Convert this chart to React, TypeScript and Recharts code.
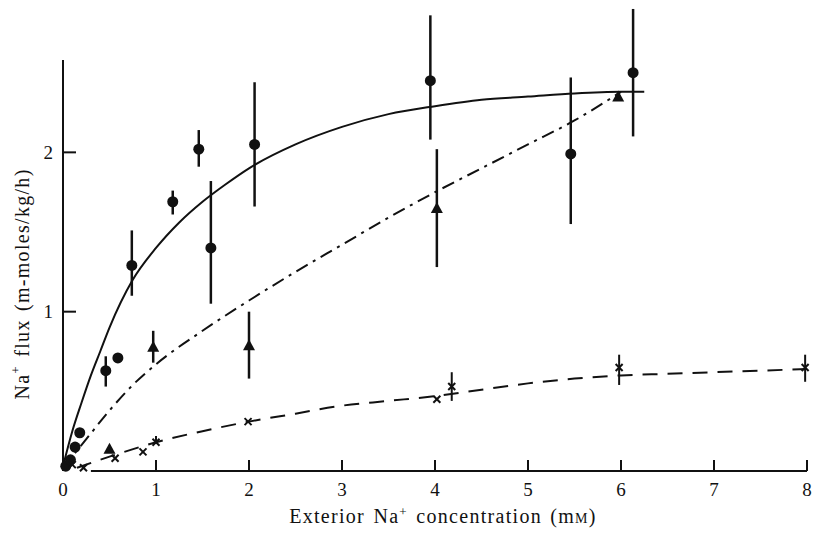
import React from "react";
import {
  ComposedChart,
  Line,
  Scatter,
  XAxis,
  YAxis,
  ErrorBar,
  ReferenceLine,
} from "recharts";

const INK = "#111";
const FONT = "'Liberation Serif', 'Times New Roman', serif";

const xTicks = [0, 1, 2, 3, 4, 5, 6, 7, 8];
const yTicks = [1, 2];

// filled circles (solid curve), bar ends are null where no bar is drawn
const circleX = [0.03, 0.08, 0.13, 0.18, 0.46, 0.59, 0.74, 1.18, 1.46, 1.59, 2.06, 3.95, 5.46, 6.13];
const circleY = [0.03, 0.07, 0.15, 0.24, 0.63, 0.71, 1.29, 1.69, 2.02, 1.4, 2.05, 2.45, 1.99, 2.5];
const circleLow = [null, null, null, null, 0.53, null, 1.1, 1.61, 1.91, 1.05, 1.66, 2.08, 1.55, 2.1];
const circleHigh = [null, null, null, null, 0.72, null, 1.51, 1.76, 2.14, 1.82, 2.44, 2.86, 2.47, 2.9];

// triangles (dash-dot curve)
const triX = [0.5, 0.97, 2.0, 4.02, 5.97];
const triY = [0.14, 0.78, 0.79, 1.65, 2.35];
const triLow = [null, 0.68, 0.58, 1.28, null];
const triHigh = [null, 0.88, 1.0, 2.02, null];

// crosses (dashed curve)
const crossX = [0.1, 0.22, 0.56, 0.86, 1.0, 1.99, 4.02, 4.18, 5.98, 7.98];
const crossY = [0.04, 0.02, 0.08, 0.12, 0.18, 0.31, 0.45, 0.53, 0.65, 0.65];
const crossLow = [null, null, null, null, 0.17, null, null, 0.44, 0.54, 0.56];
const crossHigh = [null, null, null, null, 0.22, null, null, 0.62, 0.73, 0.73];

// fitted curves
const solidX = [0, 0.1, 0.2, 0.3, 0.4, 0.5, 0.75, 1.0, 1.25, 1.5, 1.75, 2.0, 2.5, 3.0, 3.5, 4.0, 4.5, 5.0, 5.5, 6.0, 6.25];
const solidY = [0.03, 0.25, 0.43, 0.6, 0.75, 0.9, 1.2, 1.4, 1.56, 1.69, 1.8, 1.9, 2.05, 2.16, 2.24, 2.29, 2.33, 2.35, 2.37, 2.38, 2.38];

const dashDotX = [0, 0.25, 0.5, 0.75, 1.0, 1.5, 2.0, 2.5, 3.0, 3.5, 4.0, 4.5, 5.0, 5.5, 6.0];
const dashDotY = [0.02, 0.2, 0.38, 0.54, 0.67, 0.88, 1.07, 1.25, 1.42, 1.59, 1.75, 1.9, 2.05, 2.2, 2.38];

const dashedX = [0.15, 0.5, 1.0, 1.5, 2.0, 2.5, 3.0, 3.5, 4.0, 4.5, 5.0, 5.5, 6.0, 6.5, 7.0, 7.5, 8.0];
const dashedY = [0.02, 0.09, 0.18, 0.25, 0.31, 0.36, 0.41, 0.44, 0.47, 0.51, 0.55, 0.58, 0.6, 0.61, 0.62, 0.63, 0.64];

type Pt = { x: number; y: number; err?: [number, number] };

function points(xs: number[], ys: number[], lo: (number | null)[], hi: (number | null)[]): Pt[] {
  return xs.map((x, i) => {
    const p: Pt = { x, y: ys[i] };
    if (lo[i] != null && hi[i] != null) p.err = [ys[i] - (lo[i] as number), (hi[i] as number) - ys[i]];
    return p;
  });
}

function curve(xs: number[], ys: number[]) {
  return xs.map((x, i) => ({ x, y: ys[i] }));
}

const circles = points(circleX, circleY, circleLow, circleHigh);
const triangles = points(triX, triY, triLow, triHigh);
const crosses = points(crossX, crossY, crossLow, crossHigh);

const DotShape = (p: any) => <circle cx={p.cx} cy={p.cy} r={5.5} fill={INK} />;

const TriShape = (p: any) => (
  <polygon
    points={`${p.cx - 6},${p.cy + 5} ${p.cx + 6},${p.cy + 5} ${p.cx},${p.cy - 6}`}
    fill={INK}
  />
);

const CrossShape = (p: any) => (
  <g stroke={INK} strokeWidth={2}>
    <line x1={p.cx - 3.5} y1={p.cy - 3.5} x2={p.cx + 3.5} y2={p.cy + 3.5} />
    <line x1={p.cx - 3.5} y1={p.cy + 3.5} x2={p.cx + 3.5} y2={p.cy - 3.5} />
  </g>
);

const titleStyle = { letterSpacing: 1.3, wordSpacing: 2 };

const XTitle = (props: any) => {
  const vb = props.viewBox;
  return (
    <text x={vb.x + vb.width / 2 + 8} y={vb.y + 52} textAnchor="middle" fontFamily={FONT} fontSize={20} fill={INK} style={titleStyle}>
      Exterior Na
      <tspan dy={-7} fontSize={13}>+</tspan>
      <tspan dy={7}> concentration (m</tspan>
      <tspan fontSize={14}>M</tspan>
      <tspan>)</tspan>
    </text>
  );
};

const YTitle = (props: any) => {
  const vb = props.viewBox;
  const cx = vb.x + 22;
  const cy = 284;
  return (
    <text x={cx} y={cy} transform={`rotate(-90, ${cx}, ${cy})`} textAnchor="middle" dominantBaseline="central" fontFamily={FONT} fontSize={20} fill={INK} style={titleStyle}>
      Na
      <tspan dy={-7} fontSize={13}>+</tspan>
      <tspan dy={7}> flux (m-moles/kg/h)</tspan>
    </text>
  );
};

const tickStyle = { fontFamily: FONT, fontSize: 19, fill: INK };

export default function App() {
  return (
    <div style={{ position: "absolute", left: 0, top: 0, background: "#fff" }}>
      <ComposedChart width={814} height={533} margin={{ top: 1, right: 7, bottom: 0, left: 0 }}>
        <XAxis
          type="number"
          dataKey="x"
          domain={[0, 8]}
          ticks={xTicks}
          axisLine={false}
          tickLine={{ stroke: INK, strokeWidth: 2 }}
          tickSize={-11}
          tickMargin={23}
          tick={tickStyle}
          height={62}
          label={<XTitle />}
        />
        <YAxis
          type="number"
          dataKey="y"
          domain={[0, 2.95]}
          ticks={yTicks}
          axisLine={false}
          tickLine={{ stroke: INK, strokeWidth: 2 }}
          tickSize={-13}
          tickMargin={23}
          tick={tickStyle}
          width={63}
          label={<YTitle />}
        />
        <ReferenceLine segment={[{ x: 0, y: 0 }, { x: 0, y: 2.58 }]} stroke={INK} strokeWidth={2} />
        <ReferenceLine segment={[{ x: 0.3, y: 0 }, { x: 8, y: 0 }]} stroke={INK} strokeWidth={2} />

        <Line data={curve(solidX, solidY)} dataKey="y" type="monotone" stroke={INK} strokeWidth={2} dot={false} isAnimationActive={false} />
        <Line data={curve(dashDotX, dashDotY)} dataKey="y" type="monotone" stroke={INK} strokeWidth={2} strokeDasharray="13 6 3 6" dot={false} isAnimationActive={false} />
        <Line data={curve(dashedX, dashedY)} dataKey="y" type="monotone" stroke={INK} strokeWidth={2} strokeDasharray="15 10" dot={false} isAnimationActive={false} />

        <Scatter data={circles} dataKey="y" shape={DotShape} isAnimationActive={false}>
          <ErrorBar dataKey="err" direction="y" width={0} stroke={INK} strokeWidth={2.5} />
        </Scatter>
        <Scatter data={triangles} dataKey="y" shape={TriShape} isAnimationActive={false}>
          <ErrorBar dataKey="err" direction="y" width={0} stroke={INK} strokeWidth={2.5} />
        </Scatter>
        <Scatter data={crosses} dataKey="y" shape={CrossShape} isAnimationActive={false}>
          <ErrorBar dataKey="err" direction="y" width={0} stroke={INK} strokeWidth={2} />
        </Scatter>
      </ComposedChart>
    </div>
  );
}
